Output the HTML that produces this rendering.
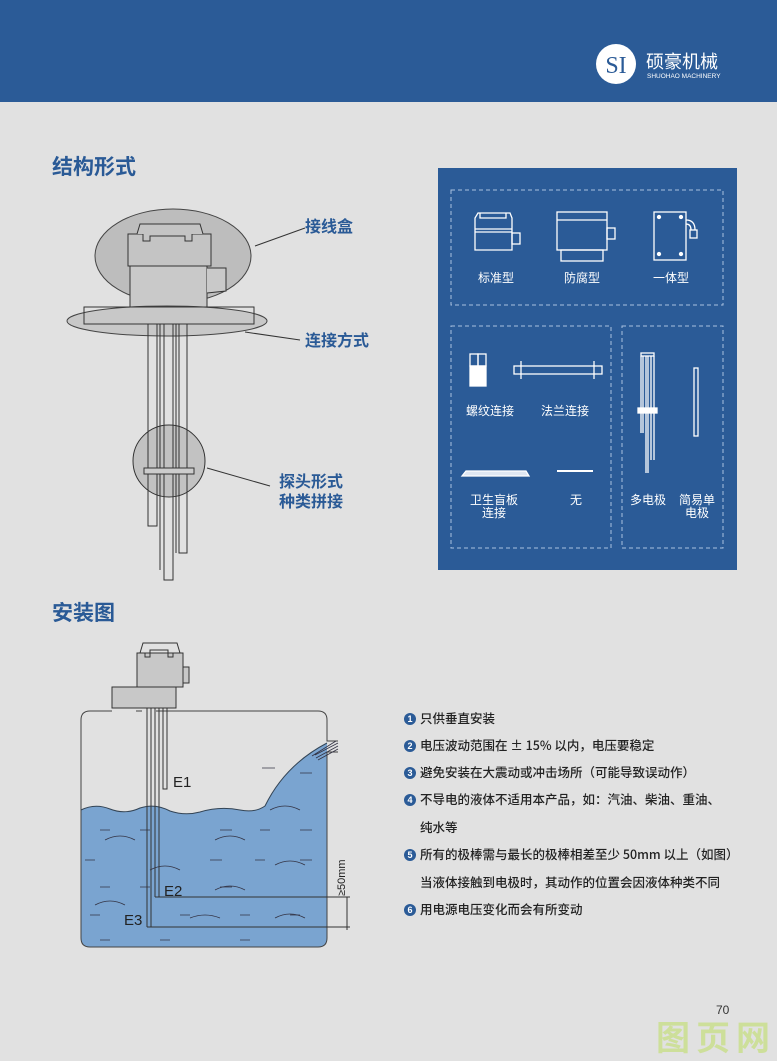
<!DOCTYPE html>
<html><head><meta charset="utf-8"><style>
body{margin:0;width:777px;height:1061px;overflow:hidden;background:#e1e1e1;font-family:"Liberation Sans","Noto Sans CJK SC",sans-serif}
svg{display:block}
</style></head><body>
<svg width="777" height="1061" viewBox="0 0 777 1061" xmlns="http://www.w3.org/2000/svg" font-family="Liberation Sans, Noto Sans CJK SC, sans-serif">
<rect width="777" height="1061" fill="#e1e1e1"/>
<rect width="777" height="102" fill="#2b5b97"/>
<!-- logo -->
<circle cx="616" cy="64" r="20" fill="#fff"/>
<text x="616" y="73" font-size="24" font-family="Liberation Serif, serif" fill="#2b5b97" text-anchor="middle">SI</text>
<text x="646" y="68" font-size="18" fill="#fff" font-family="Noto Sans CJK SC, sans-serif">硕豪机械</text>
<text x="647" y="78" font-size="6.5" fill="#fff">SHUOHAO MACHINERY</text>

<!-- titles -->
<text x="52" y="174" font-size="21" font-weight="bold" fill="#2a5a96" font-family="Noto Sans CJK SC, sans-serif">结构形式</text>
<text x="52" y="620" font-size="21" font-weight="bold" fill="#2a5a96" font-family="Noto Sans CJK SC, sans-serif">安装图</text>

<!-- structure diagram -->
<g stroke="#333" stroke-width="1" fill="none">
<ellipse cx="173" cy="256" rx="78" ry="47" fill="#bdbdbd" stroke="#444"/>
<rect x="130" y="266" width="77" height="41" fill="#c9c9c9"/>
<path d="M207 268 L226 268 L226 291 L207 293" fill="#c9c9c9"/>
<rect x="128" y="234" width="83" height="32" fill="#c4c4c4"/>
<path d="M137 234 L140 224 L200 224 L203 234 M143 234 L143 241 L150 241 L150 236 L185 236 L185 241 L192 241 L192 234" fill="#c4c4c4"/>
<ellipse cx="167" cy="321" rx="100" ry="15" fill="#c8c8c8" stroke="#444"/>
<rect x="84" y="307" width="170" height="17" fill="none"/>
<circle cx="169" cy="461" r="36" fill="#c2c2c2"/>
<rect x="148" y="324" width="9" height="202" fill="none"/>
<rect x="164" y="324" width="9" height="256" fill="none"/>
<rect x="179" y="324" width="8" height="229" fill="none"/>
<line x1="160" y1="324" x2="160" y2="570"/>
<line x1="176" y1="324" x2="176" y2="553"/>
<rect x="144" y="468" width="50" height="6" fill="#ccc"/>
<line x1="255" y1="246" x2="305" y2="228"/>
<line x1="245" y1="332" x2="300" y2="340"/>
<line x1="207" y1="468" x2="270" y2="486"/>
</g>
<g font-size="16" font-weight="bold" fill="#2a5a96" font-family="Noto Sans CJK SC, sans-serif">
<text x="305" y="232">接线盒</text>
<text x="305" y="346">连接方式</text>
<text x="279" y="487">探头形式</text>
<text x="279" y="507">种类拼接</text>
</g>

<!-- blue panel -->
<rect x="438" y="168" width="299" height="402" fill="#2b5b97"/>
<g stroke="#a9c0df" stroke-width="1" stroke-dasharray="4,3" fill="none">
<rect x="451" y="190" width="272" height="115"/>
<rect x="451" y="326" width="160" height="222"/>
<rect x="622" y="326" width="101" height="222"/>
</g>
<g stroke="#fff" stroke-width="1.3" fill="none">
<path d="M475 250 L475 218 L478 213 L510 213 L512 218 L512 250 Z M475 229 L512 229 M475 232 L512 232 M480 213 L480 218 L506 218 L506 213"/>
<rect x="512" y="233" width="8" height="11"/>
<rect x="557" y="212" width="50" height="38"/>
<line x1="557" y1="220" x2="607" y2="220"/>
<rect x="561" y="250" width="42" height="11"/>
<rect x="607" y="228" width="8" height="11"/>
<rect x="654" y="212" width="32" height="48"/>
<circle cx="659" cy="217" r="1.5" fill="#fff"/><circle cx="681" cy="217" r="1.5" fill="#fff"/>
<circle cx="659" cy="254" r="1.5" fill="#fff"/><circle cx="681" cy="254" r="1.5" fill="#fff"/>
<path d="M686 220 Q695 220 695 230 M686 224 Q691 224 691 230"/>
<rect x="690" y="230" width="7" height="8"/>
<rect x="470" y="354" width="8" height="12"/><rect x="478" y="354" width="8" height="12"/>
<rect x="470" y="366" width="16" height="20" fill="#fff"/>
<rect x="514" y="366" width="88" height="8"/>
<line x1="521" y1="361" x2="521" y2="379"/><line x1="594" y1="361" x2="594" y2="379"/>
<path d="M462 476 L466 471 L526 471 L529 476 Z" fill="#dfe7f2"/>
<line x1="557" y1="471" x2="593" y2="471" stroke-width="2"/>
<rect x="641" y="353" width="13" height="3"/>
<line x1="641" y1="356" x2="641" y2="433"/><line x1="643" y1="356" x2="643" y2="433"/>
<line x1="646" y1="356" x2="646" y2="473"/><line x1="648" y1="356" x2="648" y2="473"/>
<line x1="651" y1="356" x2="651" y2="460"/><line x1="654" y1="356" x2="654" y2="460"/>
<rect x="638" y="408" width="19" height="5" fill="#fff"/>
<rect x="694" y="368" width="4" height="68"/>
</g>
<g font-size="12" fill="#fff" text-anchor="middle" font-family="Noto Sans CJK SC, sans-serif">
<text x="496" y="282">标准型</text>
<text x="582" y="282">防腐型</text>
<text x="671" y="282">一体型</text>
<text x="490" y="415">螺纹连接</text>
<text x="565" y="415">法兰连接</text>
<text x="494" y="504">卫生盲板</text>
<text x="494" y="517">连接</text>
<text x="576" y="504">无</text>
<text x="648" y="504">多电极</text>
<text x="697" y="504">简易单</text>
<text x="697" y="517">电极</text>
</g>

<!-- tank -->
<path d="M81 810 Q95 803 110 809 Q125 815 140 808 Q155 803 170 811 Q185 816 200 812 Q220 806 240 810 Q255 813 265 806 Q285 765 327 743 L327 938 Q327 947 318 947 L90 947 Q81 947 81 938 Z" fill="#7aa4d0"/>
<path d="M112 711 L90 711 Q81 711 81 720 L81 938 Q81 947 90 947 L318 947 Q327 947 327 938 L327 752 L338 752 M338 741 L327 741 L327 720 Q327 711 318 711 L156 711 M136 711 L142 711" fill="none" stroke="#444" stroke-width="1"/>
<path d="M81 810 Q95 803 110 809 Q125 815 140 808 Q155 803 170 811 Q185 816 200 812 Q220 806 240 810 Q255 813 265 806 Q285 765 327 743" fill="none" stroke="#345" stroke-width="1"/>
<g stroke="#334" stroke-width="0.8" fill="none">
<path d="M315 755 L338 743 M316 758 L338 746 M318 760 L338 749 M312 756 L336 741"/>
<path d="M262 768 L275 768 M300 773 L312 773 M100 830 L110 830 M140 830 L150 830 M220 830 L232 830 M260 830 L270 830 M300 830 L312 830 M85 860 L95 860 M210 860 L222 860 M255 860 L265 860 M300 860 L312 860 M100 887 L110 887 M140 887 L150 887 M220 887 L232 887 M90 915 L100 915 M180 915 L190 915 M240 915 L250 915 M290 915 L300 915 M100 940 L110 940 M160 940 L170 940 M240 940 L250 940"/>
<path d="M105 840 Q120 832 135 840 M215 840 Q230 832 245 840 M275 865 Q290 857 305 865 M150 870 Q165 862 180 870 M215 890 Q230 882 245 890 M95 905 Q110 897 125 905 M190 918 Q205 912 220 918 M275 918 Q290 910 305 918 M270 810 Q285 802 300 810"/>
</g>
<g stroke="#333" stroke-width="1" fill="none">
<rect x="112" y="687" width="64" height="21" fill="#c8c8c8"/>
<rect x="137" y="653" width="46" height="34" fill="#c8c8c8"/>
<path d="M140 653 L143 643 L177 643 L180 653 M145 653 L145 657 L150 657 L150 650 L168 650 L168 657 L173 657 L173 653"/>
<rect x="183" y="667" width="6" height="16" fill="#c8c8c8"/>
<line x1="147" y1="708" x2="147" y2="927"/>
<line x1="151" y1="708" x2="151" y2="927"/>
<line x1="155" y1="708" x2="155" y2="897"/>
<line x1="159" y1="708" x2="159" y2="897"/>
<rect x="163" y="708" width="4" height="81"/>
<line x1="147" y1="927" x2="350" y2="927"/>
<line x1="155" y1="897" x2="350" y2="897"/>
<line x1="347" y1="897" x2="347" y2="930"/>
</g>
<g font-size="15" fill="#222" font-family="Liberation Sans, sans-serif">
<text x="173" y="787">E1</text>
<text x="164" y="896">E2</text>
<text x="124" y="925">E3</text>
<text x="0" y="0" font-size="11" transform="translate(345 896) rotate(-90)">≥50mm</text>
</g>

<!-- notes -->
<g font-size="12.5" fill="#222" font-family="Noto Sans CJK SC, sans-serif" font-weight="500">
<g fill="#2b5b97"><circle cx="410" cy="719" r="6"/><circle cx="410" cy="746" r="6"/><circle cx="410" cy="773" r="6"/><circle cx="410" cy="800" r="6"/><circle cx="410" cy="855" r="6"/><circle cx="410" cy="910" r="6"/></g>
<g fill="#fff" font-size="9" font-weight="bold" text-anchor="middle" font-family="Liberation Sans, sans-serif">
<text x="410" y="722">1</text><text x="410" y="749">2</text><text x="410" y="776">3</text><text x="410" y="803">4</text><text x="410" y="858">5</text><text x="410" y="913">6</text></g>
<text x="420" y="723">只供垂直安装</text>
<text x="420" y="750">电压波动范围在 ± 15% 以内，电压要稳定</text>
<text x="420" y="777">避免安装在大震动或冲击场所（可能导致误动作）</text>
<text x="420" y="804">不导电的液体不适用本产品，如：汽油、柴油、重油、</text>
<text x="420" y="832">纯水等</text>
<text x="420" y="859">所有的极棒需与最长的极棒相差至少 50mm 以上（如图）</text>
<text x="420" y="887">当液体接触到电极时，其动作的位置会因液体种类不同</text>
<text x="420" y="914">用电源电压变化而会有所变动</text>
</g>

<text x="656" y="1050" font-size="34" font-weight="bold" fill="#cddf9a" font-family="Noto Sans CJK SC, sans-serif" letter-spacing="6">图页网</text>
<text x="716" y="1014" font-size="12" fill="#333">70</text>
</svg>
</body></html>
